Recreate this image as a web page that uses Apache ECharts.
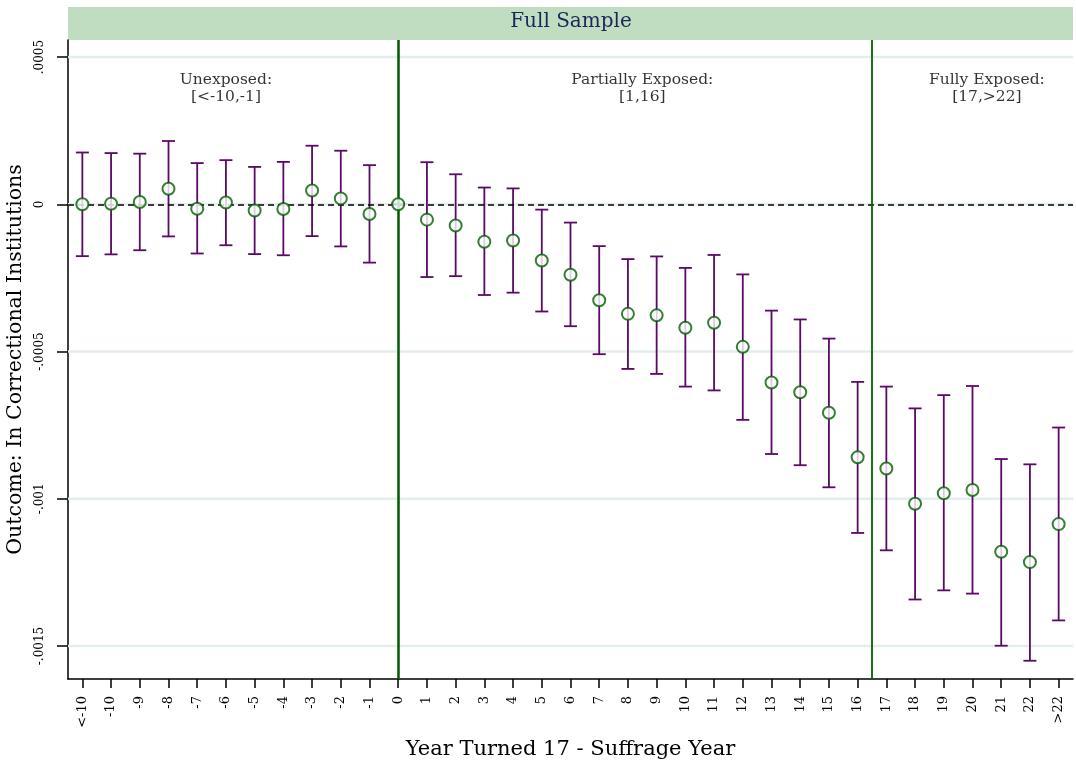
<!DOCTYPE html>
<html>
<head>
<meta charset="utf-8">
<script src="https://cdn.jsdelivr.net/npm/echarts@6/dist/echarts.min.js"></script>
<style>
  html, body { margin: 0; padding: 0; background: #fff; }
  #main { width: 1076px; height: 766px; }
</style>
</head>
<body>
<div id="main"></div>
<script>
// categories: year turned 17 minus suffrage year
var categories = ['<-10', '-10', '-9', '-8', '-7', '-6', '-5', '-4', '-3', '-2', '-1', '0',
  '1', '2', '3', '4', '5', '6', '7', '8', '9', '10', '11', '12', '13', '14', '15', '16',
  '17', '18', '19', '20', '21', '22', '>22'];

// point estimates
var estimates = [0.000000, 0.000002, 0.000008, 0.000053, -0.000015, 0.000006, -0.000021, -0.000016, 0.000047, 0.000020, -0.000033, 0.000000,
  -0.000052, -0.000072, -0.000127, -0.000123, -0.000191, -0.000239, -0.000326, -0.000372, -0.000377, -0.000419, -0.000402, -0.000484, -0.000605, -0.000638, -0.000708, -0.000859,
  -0.000897, -0.001017, -0.000981, -0.000970, -0.001180, -0.001215, -0.001086];

// 95% CI upper bounds
var ciHigh = [0.000176, 0.000174, 0.000172, 0.000215, 0.000140, 0.000150, 0.000127, 0.000144, 0.000199, 0.000182, 0.000133, 0.000000,
  0.000143, 0.000102, 0.000057, 0.000054, -0.000018, -0.000062, -0.000142, -0.000186, -0.000177, -0.000216, -0.000172, -0.000238, -0.000361, -0.000391, -0.000456, -0.000603,
  -0.000619, -0.000693, -0.000648, -0.000617, -0.000865, -0.000883, -0.000758];

// 95% CI lower bounds
var ciLow = [-0.000176, -0.000170, -0.000156, -0.000109, -0.000167, -0.000139, -0.000169, -0.000173, -0.000108, -0.000143, -0.000198, 0.000000,
  -0.000247, -0.000244, -0.000308, -0.000300, -0.000364, -0.000414, -0.000509, -0.000559, -0.000576, -0.000619, -0.000632, -0.000732, -0.000848, -0.000886, -0.000961, -0.001116,
  -0.001175, -0.001342, -0.001311, -0.001322, -0.001499, -0.001550, -0.001413];

var yTickValues = [0.0005, 0, -0.0005, -0.001, -0.0015];
var yTickLabels = ['.0005', '0', '-.0005', '-.001', '-.0015'];

var FONT = 'DejaVu Serif';

var chart = echarts.init(document.getElementById('main'));

var barData = [];
var pointData = [];
for (var i = 0; i < categories.length; i++) {
  barData.push([i, ciLow[i], ciHigh[i]]);
  pointData.push([i, estimates[i]]);
}

function renderBar(params, api) {
  var lo = api.coord([api.value(0), api.value(1)]);
  var hi = api.coord([api.value(0), api.value(2)]);
  var w = 6.5;
  var st = { stroke: '#5c0868', lineWidth: 1.8 };
  return {
    type: 'group',
    children: [
      { type: 'line', shape: { x1: hi[0], y1: hi[1], x2: lo[0], y2: lo[1] }, style: st },
      { type: 'line', shape: { x1: hi[0] - w, y1: hi[1], x2: hi[0] + w, y2: hi[1] }, style: st },
      { type: 'line', shape: { x1: lo[0] - w, y1: lo[1], x2: lo[0] + w, y2: lo[1] }, style: st }
    ]
  };
}

// light horizontal grid line across the plot at a y tick
function renderGrid(params, api) {
  var a = api.coord([-0.5, api.value(0)]);
  var b = api.coord([34.5, api.value(0)]);
  return {
    type: 'line',
    shape: { x1: a[0], y1: a[1], x2: b[0], y2: b[1] },
    style: { stroke: '#e4eded', lineWidth: 2.5 }
  };
}

var option = {
  backgroundColor: '#fff',
  animation: false,
  textStyle: { fontFamily: FONT },
  graphic: [{
    type: 'rect',
    shape: { x: 68, y: 7, width: 1005, height: 33 },
    style: { fill: '#c0ddc1' },
    z: 0
  }, {
    type: 'text',
    x: 571, y: 22,
    style: { text: 'Full Sample', fill: '#1a2858', font: '20px "DejaVu Serif"', textAlign: 'center', textVerticalAlign: 'middle' },
    z: 1
  }],
  grid: { left: 68, right: 3, top: 40, bottom: 87, containLabel: false, outerBoundsMode: 'none' },
  xAxis: [{
    type: 'category',
    data: categories,
    axisLine: { show: true, onZero: false, lineStyle: { color: '#000', width: 1.5 } },
    axisTick: { show: true, alignWithLabel: true, interval: 0, length: 9, lineStyle: { color: '#000', width: 1.5 } },
    axisLabel: { interval: 0, rotate: 90, fontSize: 13, color: '#000', margin: 17, fontFamily: FONT },
    splitLine: { show: false },
    name: 'Year Turned 17 - Suffrage Year',
    nameLocation: 'middle',
    nameGap: 60,
    nameTextStyle: { fontSize: 21, color: '#000', fontFamily: FONT }
  }, {
    type: 'value',
    min: -0.5,
    max: 34.5,
    show: false
  }],
  yAxis: {
    type: 'value',
    min: -0.001612,
    max: 0.000558,
    axisLine: { show: true, onZero: false, lineStyle: { color: '#000', width: 1.5 } },
    axisTick: { show: true, length: 11, customValues: yTickValues, lineStyle: { color: '#000', width: 1.5 } },
    axisLabel: {
      customValues: yTickValues,
      rotate: 90,
      fontSize: 12,
      color: '#000',
      margin: 22,
      fontFamily: FONT,
      formatter: function (v) {
        for (var j = 0; j < yTickValues.length; j++) {
          if (Math.abs(v - yTickValues[j]) < 1e-9) return yTickLabels[j];
        }
        return '';
      }
    },
    splitLine: { show: false },
    name: 'Outcome: In Correctional Institutions',
    nameLocation: 'middle',
    nameRotate: 90,
    nameGap: 40,
    nameTextStyle: { fontSize: 20.5, color: '#000', fontFamily: FONT }
  },
  series: [{
    // horizontal grid lines
    type: 'custom',
    xAxisIndex: 1,
    renderItem: renderGrid,
    data: yTickValues.map(function (v) { return [v]; }),
    encode: { y: 0 },
    silent: true,
    z: 1
  }, {
    // dashed zero line
    type: 'line',
    xAxisIndex: 1,
    data: [[0, 0]],
    showSymbol: false,
    lineStyle: { opacity: 0 },
    silent: true,
    z: 2,
    markLine: {
      silent: true,
      symbol: 'none',
      label: { show: false },
      data: [{ yAxis: 0, lineStyle: { color: '#000', width: 1.5, type: [6, 4] } }]
    }
  }, {
    // exposure boundaries
    type: 'line',
    xAxisIndex: 1,
    data: [[11, 0]],
    showSymbol: false,
    lineStyle: { opacity: 0 },
    silent: true,
    z: 2,
    markLine: {
      silent: true,
      symbol: 'none',
      label: { show: false },
      data: [
        { xAxis: 11, lineStyle: { color: '#005a00', width: 2.5, type: 'solid' } },
        { xAxis: 27.5, lineStyle: { color: '#006400', width: 1.8, type: 'solid' } }
      ]
    }
  }, {
    // region labels
    type: 'scatter',
    xAxisIndex: 1,
    symbolSize: 0,
    silent: true,
    z: 3,
    label: {
      show: true,
      position: 'inside',
      color: '#000',
      fontSize: 15.5,
      lineHeight: 17,
      fontFamily: FONT,
      formatter: function (p) { return p.value[2]; }
    },
    data: [
      [5, 0.000393, 'Unexposed:\n[<-10,-1]'],
      [19.5, 0.000393, 'Partially Exposed:\n[1,16]'],
      [31.5, 0.000393, 'Fully Exposed:\n[17,>22]']
    ]
  }, {
    type: 'custom',
    renderItem: renderBar,
    data: barData,
    z: 4
  }, {
    type: 'scatter',
    data: pointData,
    symbol: 'emptyCircle',
    symbolSize: 12,
    itemStyle: { color: '#006000', borderWidth: 2.5 },
    z: 5
  }]
};

chart.setOption(option);
</script>
</body>
</html>
